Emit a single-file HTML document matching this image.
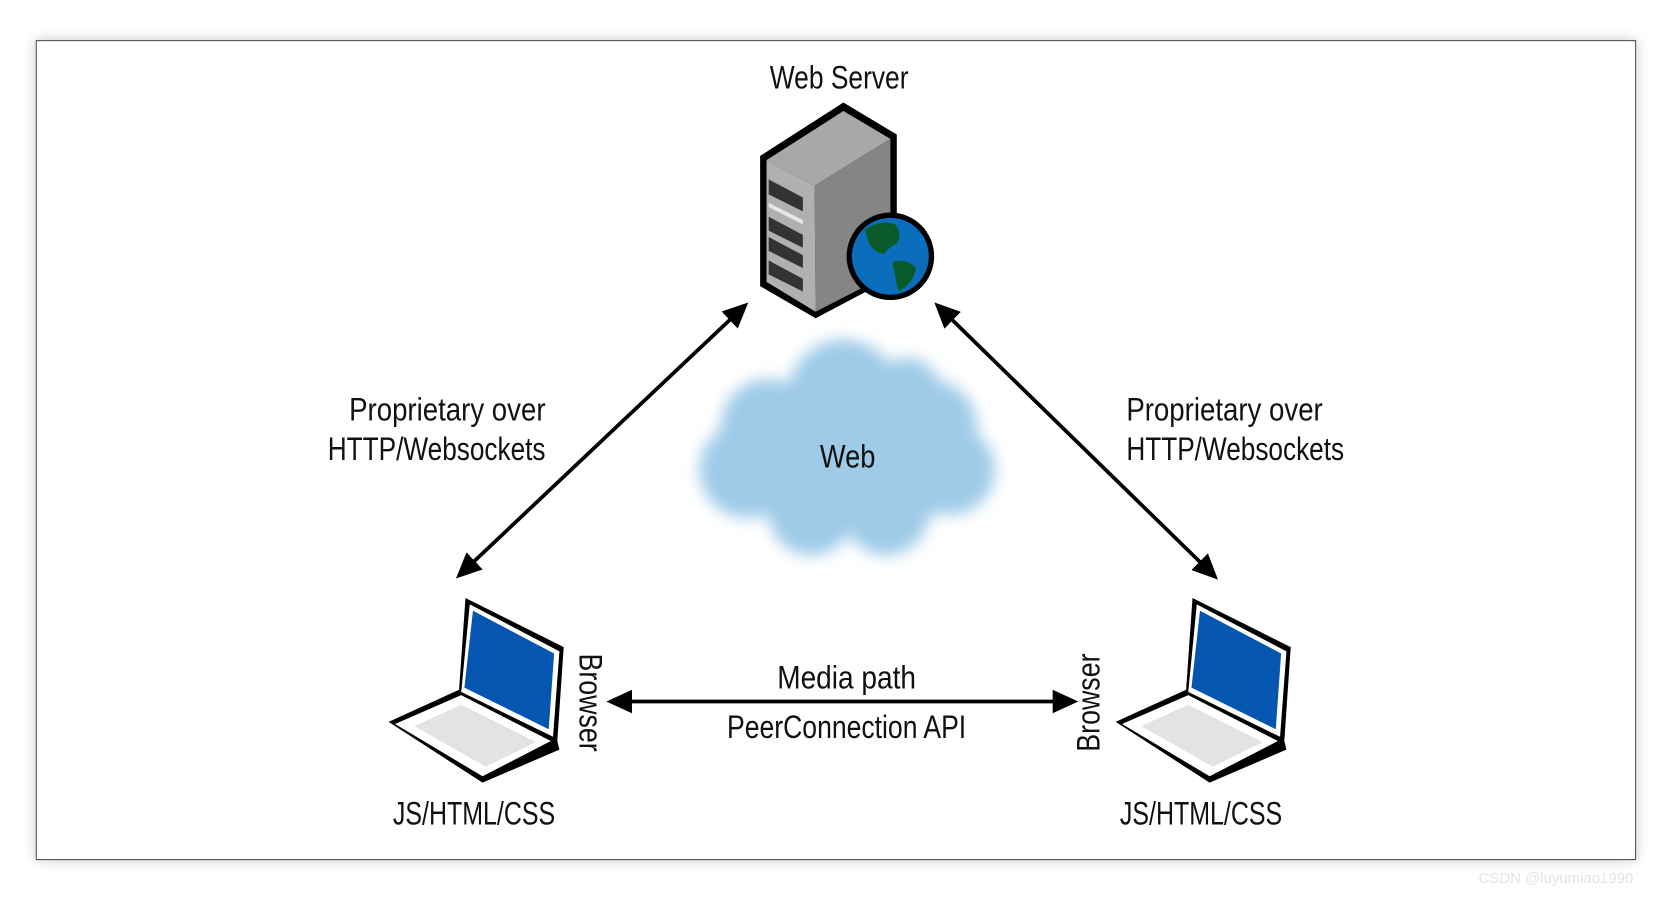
<!DOCTYPE html>
<html><head><meta charset="utf-8"><style>
html,body{margin:0;padding:0;background:#fff;}
svg{display:block;}
text{font-family:"Liberation Sans",sans-serif;fill:#111;}
</style></head><body>
<svg width="1674" height="898" viewBox="0 0 1568 841" preserveAspectRatio="none">
<defs>
<filter id="sh" x="-5%" y="-5%" width="110%" height="110%"><feGaussianBlur stdDeviation="6"/></filter>
<filter id="cb"><feGaussianBlur stdDeviation="7"/></filter>
<marker id="ah" markerWidth="24" markerHeight="22" refX="20" refY="11" orient="auto-start-reverse" markerUnits="userSpaceOnUse" viewBox="0 0 24 22"><path d="M0,0 L24,11 L0,22 z" fill="#000"/></marker>
</defs>
<rect x="34" y="38" width="1498" height="767" fill="#999" filter="url(#sh)" opacity="0.6"/>
<rect x="34" y="38" width="1498" height="767" fill="#fff" stroke="#555" stroke-width="1"/>

<!-- cloud -->
<g fill="#9fcbe8" filter="url(#cb)">
<ellipse cx="795" cy="430" rx="120" ry="70"/>
<circle cx="790" cy="370" r="52"/>
<circle cx="720" cy="400" r="45"/>
<circle cx="700" cy="440" r="45"/>
<circle cx="870" cy="400" r="45"/>
<circle cx="890" cy="440" r="42"/>
<circle cx="760" cy="480" r="40"/>
<circle cx="830" cy="480" r="40"/>
<circle cx="850" cy="365" r="30"/>
</g>
<text x="794" y="438" font-size="30" text-anchor="middle" textLength="52" lengthAdjust="spacingAndGlyphs">Web</text>

<!-- server -->
<text x="786" y="83" font-size="30" text-anchor="middle" textLength="130" lengthAdjust="spacingAndGlyphs">Web Server</text>
<polygon points="712,146 790,96 840,126 840,258 764,298 712,268" fill="#000"/>
<polygon points="718,150 790,104 834,130 763,174" fill="#a8a8a8"/>
<polygon points="763,174 834,130 834,256 764,292" fill="#858585"/>
<polygon points="718,150 763,174 764,292 718,264" fill="#b0b0b0"/>
<g fill="#333">
<polygon points="720,168 752,185 752,198 720,182"/>
<polygon points="720,203 752,220 752,232 720,216"/>
<polygon points="720,222 752,239 752,251 720,235"/>
<polygon points="720,244 752,261 752,273 720,257"/>
</g>
<polygon points="720,190 752,206 752,210 720,194" fill="#e8e8e8"/>
<circle cx="834" cy="240" r="41" fill="#000"/>
<circle cx="834" cy="240" r="36" fill="#0b6ebd"/>
<path d="M810,215 q15,-10 28,-5 q8,8 2,18 q-8,4 -12,10 q-10,-2 -14,-10 z" fill="#0b5a2a"/>
<path d="M836,245 q14,-3 22,6 q-2,14 -16,22 q-4,-14 -6,-28z" fill="#0b5a2a"/>

<!-- arrows -->
<g stroke="#000" stroke-width="3.5" fill="none">
<line x1="430" y1="539" x2="698" y2="286" marker-start="url(#ah)" marker-end="url(#ah)"/>
<line x1="878" y1="286" x2="1138" y2="540" marker-start="url(#ah)" marker-end="url(#ah)"/>
<line x1="572" y1="657" x2="1006" y2="657" marker-start="url(#ah)" marker-end="url(#ah)"/>
</g>
<g font-size="30">
<text x="419" y="394" text-anchor="middle" textLength="184" lengthAdjust="spacingAndGlyphs">Proprietary over</text>
<text x="409" y="431" text-anchor="middle" textLength="204" lengthAdjust="spacingAndGlyphs">HTTP/Websockets</text>
<text x="1147" y="394" text-anchor="middle" textLength="184" lengthAdjust="spacingAndGlyphs">Proprietary over</text>
<text x="1157" y="431" text-anchor="middle" textLength="204" lengthAdjust="spacingAndGlyphs">HTTP/Websockets</text>
<text x="793" y="645" text-anchor="middle" textLength="130" lengthAdjust="spacingAndGlyphs">Media path</text>
<text x="793" y="691" text-anchor="middle" textLength="224" lengthAdjust="spacingAndGlyphs">PeerConnection API</text>
<text x="444" y="772" text-anchor="middle" textLength="152" lengthAdjust="spacingAndGlyphs">JS/HTML/CSS</text>
<text x="1125" y="772" text-anchor="middle" textLength="152" lengthAdjust="spacingAndGlyphs">JS/HTML/CSS</text>
<text transform="translate(543,658) rotate(90)" text-anchor="middle" textLength="92" lengthAdjust="spacingAndGlyphs">Browser</text>
<text transform="translate(1030,658) rotate(-90)" text-anchor="middle" textLength="92" lengthAdjust="spacingAndGlyphs">Browser</text>
</g>

<!-- laptop left -->
<g>
<polygon points="364,676 430,646 436,560 528,606 522,694 524,702 452,733" fill="#000"/>
<polygon points="440,566 524,610 518,690 432,648" fill="#fff"/>
<polygon points="443,572 519,612 514,683 435,644" fill="#0456b0"/>
<polygon points="370,678 432,651 516,694 452,727" fill="#fff"/>
<polygon points="388,680 432,660 502,695 455,718" fill="#e3e3e3"/>
</g>
<!-- laptop right -->
<g>
<polygon points="1045,676 1111,646 1117,560 1209,606 1203,694 1205,702 1133,733" fill="#000"/>
<polygon points="1121,566 1205,610 1199,690 1113,648" fill="#fff"/>
<polygon points="1124,572 1200,612 1195,683 1116,644" fill="#0456b0"/>
<polygon points="1051,678 1113,651 1197,694 1133,727" fill="#fff"/>
<polygon points="1069,680 1113,660 1183,695 1136,718" fill="#e3e3e3"/>
</g>
<text x="1385" y="827" font-size="14" style="fill:#e4e4e4">CSDN @luyumiao1990</text>
</svg>
</body></html>
